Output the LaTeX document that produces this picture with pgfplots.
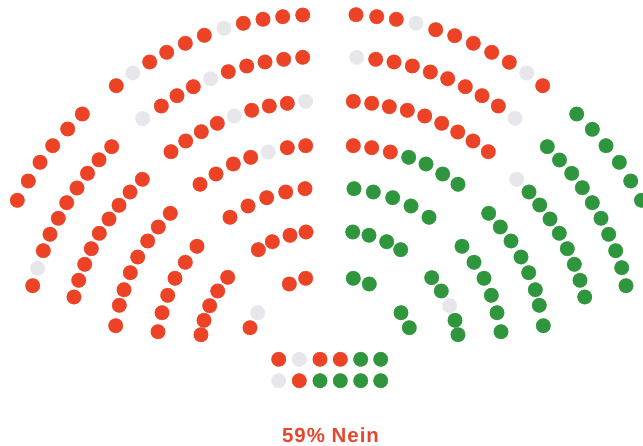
\documentclass[border=0pt]{standalone}
\usepackage{pgfplots}
\pgfplotsset{compat=1.18}
\usepackage{fontspec}
\setmainfont{Liberation Sans}
\definecolor{seatred}{RGB}{236,67,38}
\definecolor{seatgreen}{RGB}{47,150,62}
\definecolor{seatgray}{RGB}{231,231,235}
\definecolor{txtred}{RGB}{232,70,44}
\begin{document}
\begin{tikzpicture}
\begin{axis}[
  x=1bp, y=1bp, y dir=reverse,
  xmin=0, xmax=643, ymin=0, ymax=446,
  hide axis, clip=false,
  scale only axis,
]
% red seats (118)
\addplot[only marks, mark=*, mark size=7.2bp, color=seatred] table {
x y
302.7 15.0
282.7 16.7
263.0 19.3
243.3 23.3
204.3 35.3
185.3 43.3
166.7 52.3
149.7 62.0
116.3 85.7
82.3 114
67.7 129
52.7 145.7
40 162.3
28.3 181
17.3 200.3
302.7 57.3
283.7 59.3
265 62
246.7 66
228.3 71.7
193.3 86.7
177 95.7
161.3 106
111.7 146.7
99 159.8
87.5 173.3
77 188
66.7 202.7
58.3 218.3
50 234.3
43.3 250.7
32.7 285.7
287.3 103.3
269.3 106
251.7 110.3
217.3 123.3
201.3 131.7
185.7 141
171 151.7
142.3 179.3
130 192
119 205.3
109 219
99.3 233.3
91.3 248.7
84.7 264.3
78.7 280.3
74 297
305.7 145.7
287.3 147.7
250.7 157.3
233.3 164
216 174
200 184.3
170.3 213.3
158.3 227
147.7 241
137.7 257
130.3 272.7
124 289.7
119.3 305.3
115.7 325.7
305 188.7
285.7 192
266.7 197.7
248 206
230 217.3
197 246.3
185.3 262.3
175 278.3
167.7 295.3
162 312.7
158 331.7
306 232
290 235.3
272.3 241.7
258.3 249.7
227.7 277.3
217.7 291
209.7 305.7
204 320.3
201 334.7
305.7 278.3
289.3 284
250 327.7
356 14.7
376.7 16.7
396.3 19.3
435.7 29.7
454.7 35.7
473.3 43.3
491.7 52.3
509.3 62.3
542.7 85.7
375.7 59.3
394 62
412.3 66
430.3 72
447.7 78.7
465.3 86.7
482 95.7
498.3 106
353.3 101.3
371.7 103.3
389.3 106.7
407.3 110.3
424.7 116
441.7 123.3
457.7 132
473 141
488.3 151.7
353.3 145.7
371.7 147.7
390.3 152
278.7 359.3
320 359.3
340.3 359.3
299.3 380.7
};
% green seats (65)
\addplot[only marks, mark=*, mark size=7.2bp, color=seatgreen] table {
x y
576.7 114
592.3 129.3
606 145.7
619.3 162.3
630.7 181
641.5 200.3
547.3 146.7
559.5 160
571.7 173.3
582.3 187.7
592.3 202.7
601 218.3
608.7 234.3
615.7 250.7
621.7 267.7
626 285.7
529 192
539.7 205
550 219
559.3 233.3
567.3 248.7
574.3 264.3
580 280.3
584.7 297
408.7 157.3
426 164
442.7 174
458 184.3
488.7 213.3
500.3 227
511 241
521 257
528.7 272.7
535.3 289.7
539.3 305.3
543.3 325.7
354 188.7
373.3 192
392.7 197.7
411 206
429 217.3
462 246.3
474 262.3
484 278.3
491.3 295.3
497 312.7
501 331.7
352.7 232
369 235.3
386.7 241.7
400.7 249.7
431.7 277.7
441.3 291
455 320.3
458 334.7
353.3 278.3
369.3 284
401 312.7
409.3 327.7
360.7 359.3
380.7 359.3
320 380.7
340.3 380.7
360.7 380.7
380.7 380.7
};
% vacant / absent seats (17)
\addplot[only marks, mark=*, mark size=7.2bp, color=seatgray] table {
x y
224 28.3
132.7 73
210.7 78.7
142.7 118.7
37.7 268.3
305.7 101.3
234.3 116
268.3 152
257.7 312.7
416 23.3
526.7 73
356.7 57.3
515 118.3
516.7 179.3
449.7 305.7
299.3 359.3
278.7 380.7
};
\node[font=\fontsize{20.5}{24}\selectfont\bfseries\addfontfeatures{LetterSpace=5}, text=txtred, anchor=center] at (axis cs:330.5,435) {59\% Nein};
\end{axis}
\pgfresetboundingbox
\useasboundingbox (current axis.south west) rectangle (current axis.north east);
\end{tikzpicture}
\end{document}
